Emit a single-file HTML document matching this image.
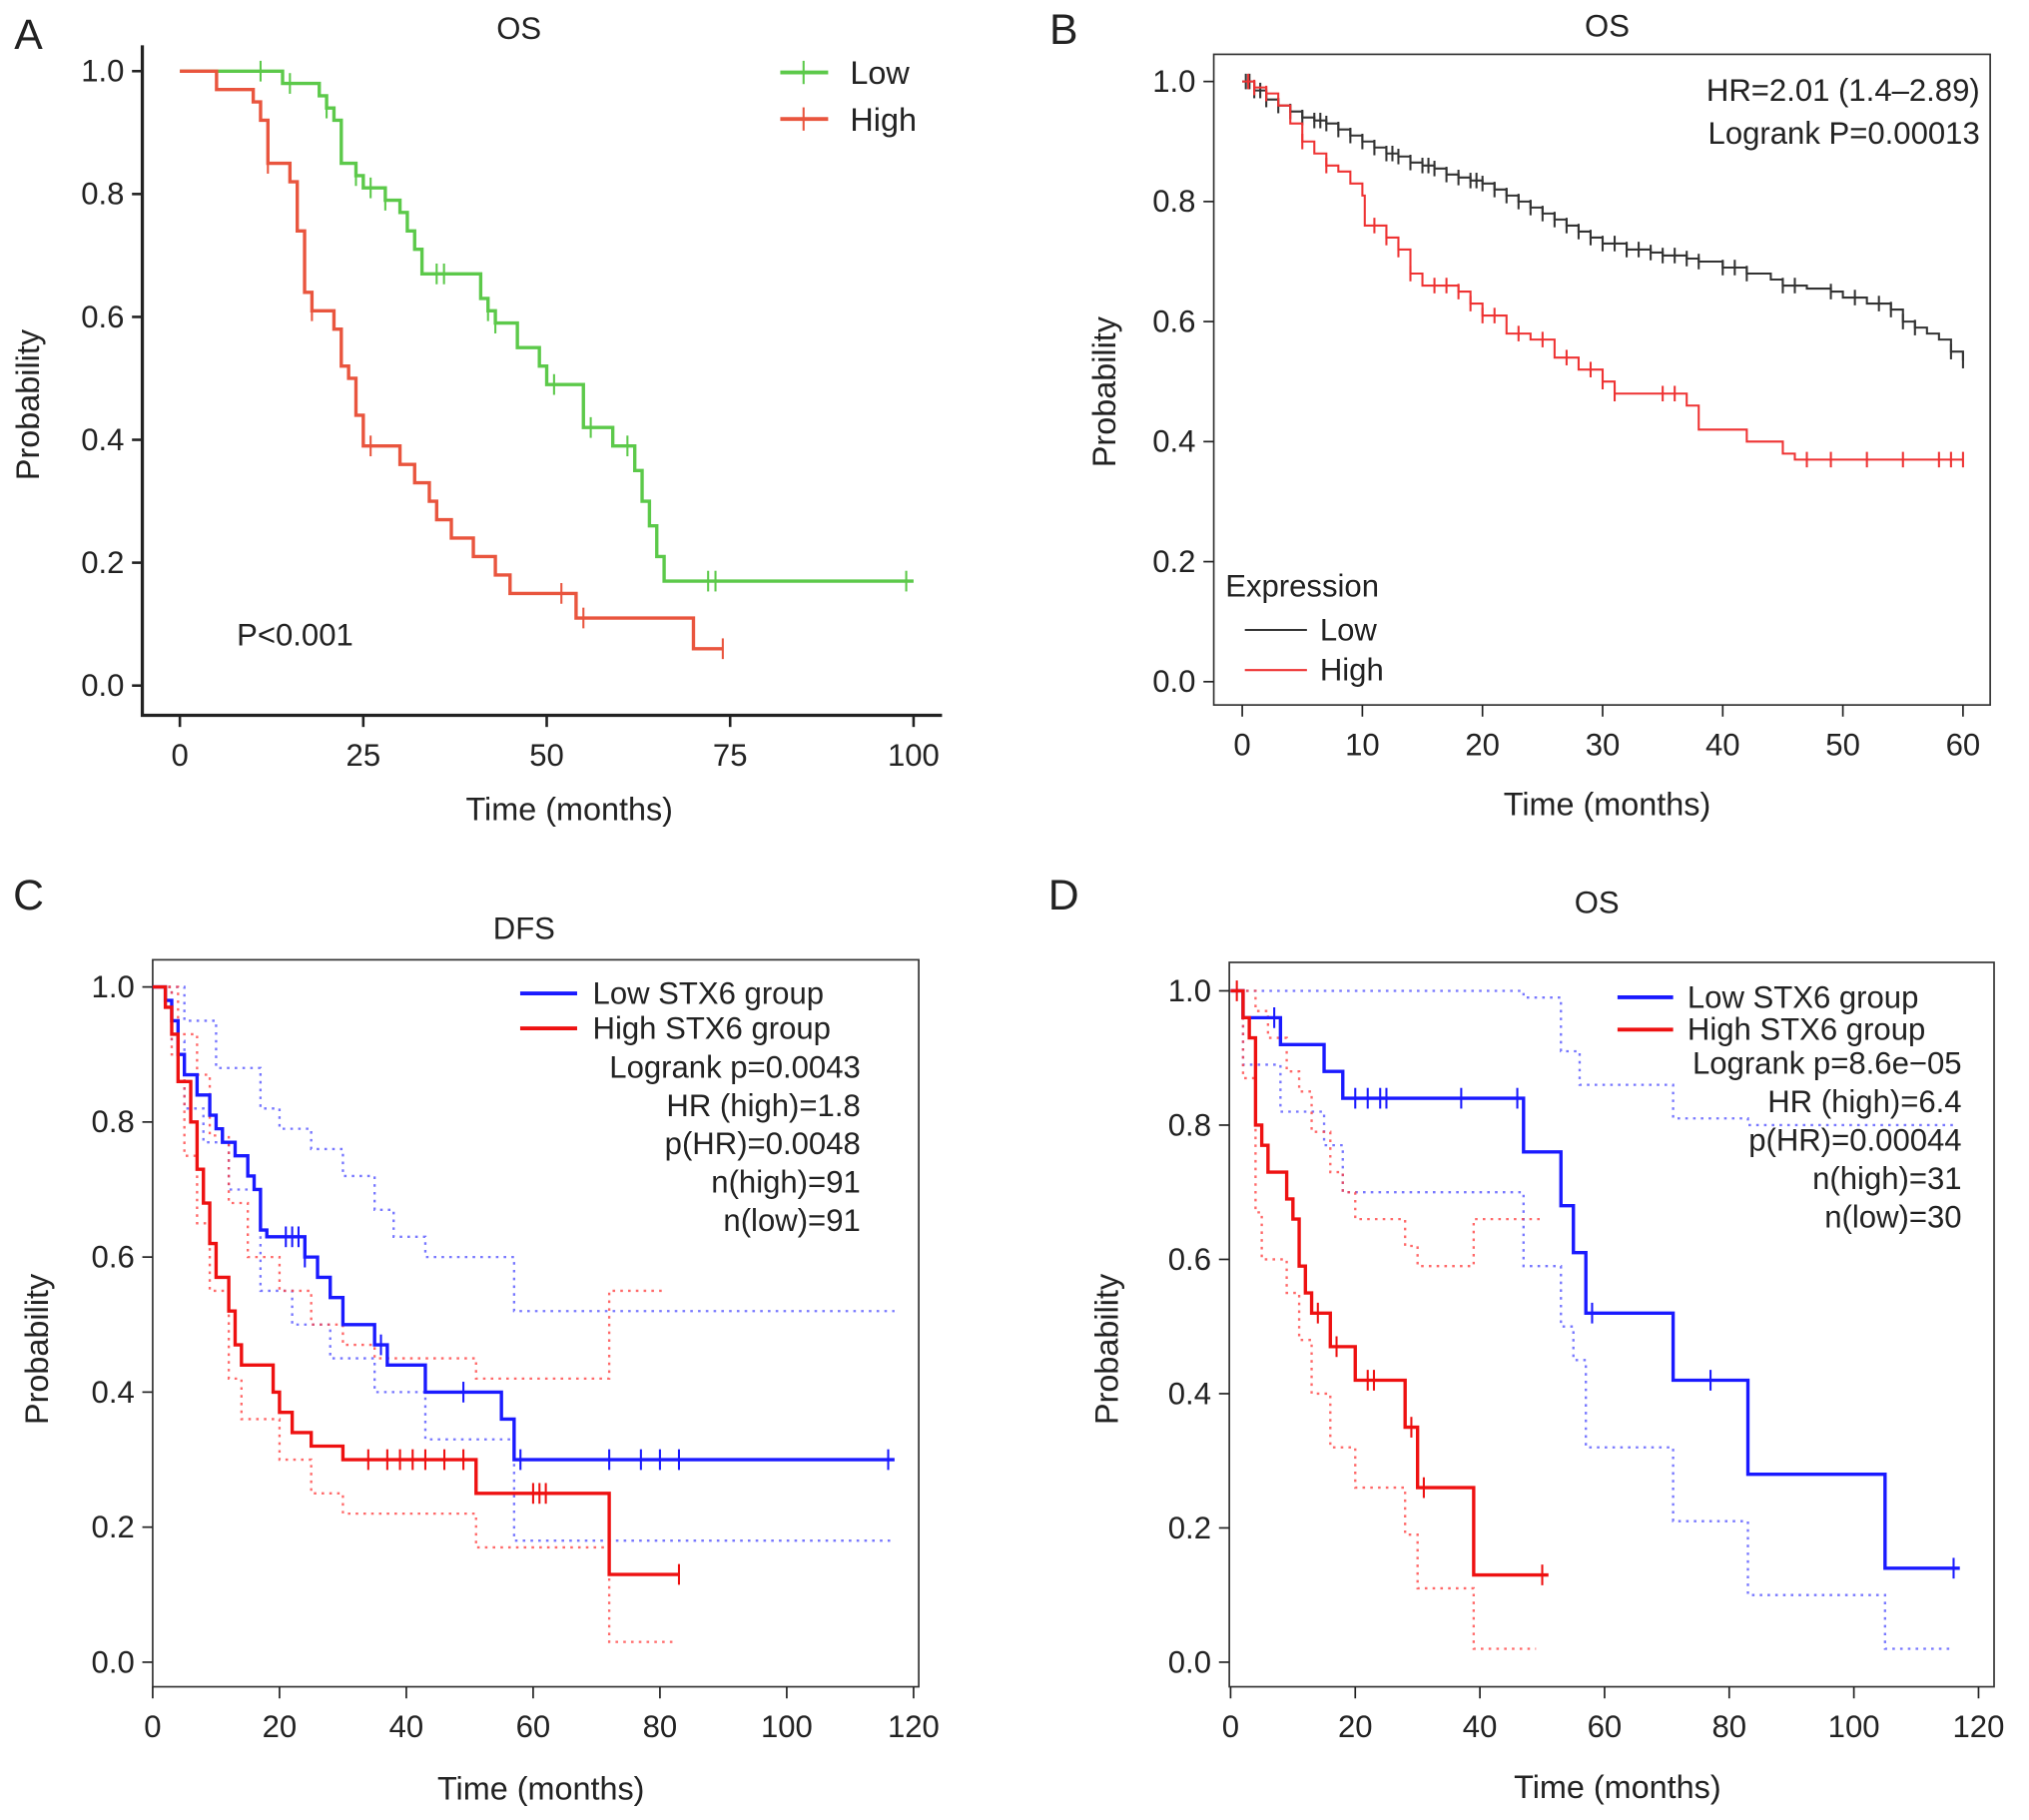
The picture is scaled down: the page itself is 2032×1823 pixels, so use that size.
<!DOCTYPE html>
<html><head><meta charset="utf-8"><style>
html,body{margin:0;padding:0;background:#fff}
svg{display:block}
text{font-family:"Liberation Sans",Arial,sans-serif;fill:#222}
</style></head><body>
<svg id="fig" width="2032" height="1823" viewBox="0 0 1568 1407" preserveAspectRatio="none" xmlns="http://www.w3.org/2000/svg"></svg>
<script>
// ---------- Panel A data ----------
const aLowT=[0,14,19,20,21,22,24,25,28,30,31,32,33,41,42,43,46,49,50,55,59,62,63,64,65,66];
const aLowS=[1,0.98,0.96,0.94,0.92,0.85,0.83,0.81,0.79,0.77,0.74,0.71,0.67,0.63,0.61,0.59,0.55,0.52,0.49,0.42,0.39,0.35,0.30,0.26,0.21,0.17];
const aLowEnd=100;
const aLowCens=[11,15,20,24,26,28,35,36,42,43,51,56,61,72,73,99];
const aHighT=[0,5,10,11,12,15,16,17,18,21,22,23,24,25,30,32,34,35,37,40,43,45,54,70];
const aHighS=[1,0.97,0.95,0.92,0.85,0.82,0.74,0.64,0.61,0.58,0.52,0.50,0.44,0.39,0.36,0.33,0.30,0.27,0.24,0.21,0.18,0.15,0.11,0.06];
const aHighEnd=74;
const aHighCens=[12,18,26,52,55,74];
const aXTicks=[0,25,50,75,100];
const yTicks=[0,0.2,0.4,0.6,0.8,1.0];
// ---------- Panel B data ----------
const bLowT=[0,1,2,3,4,5,6,7,8,9,10,11,12,13,14,15,16,17,18,19,20,21,22,23,24,25,26,27,28,29,30,32,34,35,37,38,40,42,44,45,47,49,50,52,54,55,56,57,58,59,60];
const bLowS=[1,0.985,0.97,0.96,0.95,0.94,0.935,0.93,0.92,0.91,0.9,0.89,0.88,0.875,0.865,0.86,0.855,0.845,0.84,0.835,0.83,0.82,0.81,0.8,0.79,0.78,0.77,0.76,0.75,0.74,0.73,0.72,0.715,0.71,0.705,0.70,0.69,0.68,0.67,0.66,0.655,0.65,0.64,0.63,0.62,0.60,0.59,0.58,0.57,0.55,0.535];
const bLowEnd=60;
const bLowCens=[0.3,0.6,1,1.5,2,3,4,5,6,6.5,7,8,9,10,11,12,12.5,13,14,15,15.5,16,17,18,19,19.5,20,21,22,23,24,25,26,27,28,29,30,31,32,33,34,35,36,37,38,40,41,42,45,46,49,51,53,54,55,56,59,60];
const bHighT=[0,1,2,3,4,5,6,7,8,9,10,10.2,12,13,14,15,18,19,20,22,24,26,28,30,31,37,38,42,45,46];
const bHighS=[1,0.99,0.98,0.96,0.93,0.9,0.88,0.86,0.85,0.83,0.81,0.76,0.74,0.72,0.68,0.66,0.65,0.63,0.61,0.58,0.57,0.54,0.52,0.50,0.48,0.46,0.42,0.40,0.38,0.37];
const bHighEnd=60;
const bHighCens=[0.5,1,2,5,7,11,12,13,14,16,17,18,19,20,21,23,25,27,29,30,31,35,36,47,49,52,55,58,59,60];
const bXTicks=[0,10,20,30,40,50,60];
// ---------- Panel C data ----------
const cLowT=[0,2,3,4,5,7,9,10,11,13,15,16,17,18,24,26,28,30,35,37,43,55,57];
const cLowS=[1,0.98,0.95,0.9,0.87,0.84,0.81,0.79,0.77,0.75,0.72,0.70,0.64,0.63,0.60,0.57,0.54,0.50,0.47,0.44,0.40,0.36,0.30];
const cLowEnd=117;
const cLowCens=[21,22,23,24,36,49,58,72,77,80,83,116];
const cHighT=[0,2,3,4,6,7,8,9,10,12,13,14,19,20,22,25,30,51,72];
const cHighS=[1,0.97,0.93,0.86,0.80,0.73,0.68,0.62,0.57,0.52,0.47,0.44,0.40,0.37,0.34,0.32,0.30,0.25,0.13];
const cHighEnd=83;
const cHighCens=[34,37,39,41,43,46,49,60,61,62,83];
const cLowUpT=[0,5,10,17,20,25,30,35,38,43,57];
const cLowUpS=[1,0.95,0.88,0.82,0.79,0.76,0.72,0.67,0.63,0.60,0.52];
const cLowLoT=[0,3,5,8,12,17,22,28,35,43,57];
const cLowLoS=[1,0.92,0.82,0.77,0.70,0.55,0.50,0.45,0.40,0.33,0.18];
const cHighUpT=[0,4,7,9,12,15,20,25,30,35,51,72];
const cHighUpS=[1,0.93,0.87,0.78,0.68,0.60,0.55,0.50,0.47,0.45,0.42,0.55];
const cHighLoT=[0,3,5,7,9,12,14,20,25,30,51,72];
const cHighLoS=[1,0.9,0.75,0.65,0.55,0.42,0.36,0.30,0.25,0.22,0.17,0.03];
const cdXTicks=[0,20,40,60,80,100,120];
// ---------- Panel D data ----------
const dLowT=[0,2,8,15,18,47,53,55,57,71,83,105];
const dLowS=[1,0.96,0.92,0.88,0.84,0.76,0.68,0.61,0.52,0.42,0.28,0.14];
const dLowEnd=117;
const dLowCens=[7,20,22,24,25,37,46,58,77,116];
const dHighT=[0,2,3,4,5,6,9,10,11,12,13,16,20,28,30,39];
const dHighS=[1,0.96,0.93,0.80,0.77,0.73,0.69,0.66,0.59,0.55,0.52,0.47,0.42,0.35,0.26,0.13];
const dHighEnd=51;
const dHighCens=[1,14,17,22,23,29,31,50];
const dLowUpT=[0,47,53,56,71,83];
const dLowUpS=[1,0.99,0.91,0.86,0.81,0.80];
const dLowLoT=[0,2,8,15,18,47,53,55,57,71,83,105];
const dLowLoS=[1,0.89,0.82,0.77,0.70,0.59,0.50,0.45,0.32,0.21,0.10,0.02];
const dHighUpT=[0,4,6,9,11,13,16,18,20,28,30,39];
const dHighUpS=[1,0.97,0.93,0.88,0.85,0.79,0.73,0.70,0.66,0.62,0.59,0.66];
const dHighLoT=[0,2,4,5,9,11,13,16,20,28,30,39];
const dHighLoS=[1,0.87,0.67,0.60,0.55,0.48,0.40,0.32,0.26,0.19,0.11,0.02];

const NS="http://www.w3.org/2000/svg";
const svg=document.getElementById('fig');
function mk(tag,attrs,parent){const e=document.createElementNS(NS,tag);for(const k in attrs)e.setAttribute(k,attrs[k]);(parent||svg).appendChild(e);return e;}
function txt(x,y,s,size,anchor,parent,rot){const t=mk('text',{x:x,y:y,'font-size':size,'text-anchor':anchor||'start'},parent);if(rot)t.setAttribute('transform','rotate(-90 '+x+' '+y+')');t.textContent=s;return t;}
function scale(d0,d1,r0,r1){return v=>r0+(v-d0)/(d1-d0)*(r1-r0);}
function stepPath(T,S,end,X,Y){let d='M'+X(T[0])+','+Y(S[0]);for(let i=1;i<T.length;i++){d+=' H'+X(T[i])+' V'+Y(S[i]);}d+=' H'+X(end);return d;}
function survAt(T,S,t){let s=S[0];for(let i=0;i<T.length;i++){if(T[i]<=t)s=S[i];}return s;}

function panel(P){
  const g=mk('g',{});
  
  
  const X=scale(P.xd[0],P.xd[1],P.xr[0],P.xr[1]);
  const Y=scale(0,1,P.y0,P.y1);
  if(P.box){const r=mk('rect',{x:P.box[0],y:P.box[1],width:P.box[2]-P.box[0],height:P.box[3]-P.box[1],fill:'none',stroke:'#333','stroke-width':1.3},g);
    }
  else{const a=mk('path',{d:'M'+P.ax[0]+','+P.ax[1]+' V'+P.ax[3]+' H'+P.ax[2],fill:'none',stroke:'#222','stroke-width':2.5},g);
    }
  const yg=mk('g',{},g);
  yTicks.forEach(v=>{mk('line',{x1:P.yTickX-8,x2:P.yTickX,y1:Y(v),y2:Y(v),stroke:'#222','stroke-width':P.box?1.3:2},yg);
    const t=txt(P.yTickX-14,Y(v)+8,v.toFixed(1),24,'end',yg);});
  const xg=mk('g',{},g);
  P.xticks.forEach(v=>{mk('line',{x1:X(v),x2:X(v),y1:P.xTickY,y2:P.xTickY+9,stroke:'#222','stroke-width':P.box?1.3:2},xg);
    const t=txt(X(v),P.xTickY+39,String(v),24,'middle',xg);});
  let t=txt(P.title[0],P.title[1],P.title[2],24,'middle',g);
  t=txt(P.letter[0],P.letter[1],P.letter[2],33,'middle',g);
  t=txt(P.ylab[0],P.ylab[1],'Probability',25,'middle',g,true);
  t=txt(P.xlab[0],P.xlab[1],'Time (months)',25,'middle',g);
  (P.ci||[]).forEach(c=>{const p=mk('path',{d:stepPath(c.T,c.S,c.T[c.T.length-1]+(c.ext||0),X,Y),fill:'none',stroke:c.color,'stroke-width':1.8,'stroke-dasharray':'2,4',opacity:0.8},g);
    });
  P.series.forEach(s=>{const sg=mk('g',{},g);
    mk('path',{d:stepPath(s.T,s.S,s.end,X,Y),fill:'none',stroke:s.color,'stroke-width':s.w||2.6},sg);
    s.cens.forEach(c=>{const cx=X(c),cy=Y(survAt(s.T,s.S,c));const h=s.ch||8;
      const m=mk('path',{d:'M'+cx+','+(cy-h)+' V'+(cy+h),stroke:s.color,'stroke-width':1.6},sg);
      });
  });
  return {g,X,Y};
}

const A=panel({name:'panel-a-os',xd:[0,100],xr:[139,706],y0:530,y1:55,ax:[110,35,728,553],yTickX:110,xTickY:553,xticks:aXTicks,
  title:[401,30,'OS'],letter:[22,38,'A'],ylab:[30,313],xlab:[440,634],
  series:[{name:'low-series',T:aLowT,S:aLowS,end:aLowEnd,cens:aLowCens,color:'#5cc94a'},
          {name:'high-series',T:aHighT,S:aHighS,end:aHighEnd,cens:aHighCens,color:'#e9553e'}]});
[['Low',56,'#5cc94a'],['High',92,'#e9553e']].forEach(l=>{const lg=mk('g',{},A.g);
  mk('line',{x1:603,x2:640,y1:l[1],y2:l[1],stroke:l[2],'stroke-width':3},lg);mk('line',{x1:621,x2:621,y1:l[1]-9,y2:l[1]+9,stroke:l[2],'stroke-width':1.6},lg);txt(657,l[1]+9,l[0],25,'start',lg);});
let tt=txt(228,499,'P<0.001',24,'middle',A.g);

const B=panel({name:'panel-b-os',xd:[0,60],xr:[960,1517],y0:527,y1:63,box:[938,42,1538,545],yTickX:938,xTickY:545,xticks:bXTicks,
  title:[1242,28,'OS'],letter:[822,34,'B'],ylab:[862,303],xlab:[1242,630],
  series:[{name:'low-series',T:bLowT,S:bLowS,end:bLowEnd,cens:bLowCens,color:'#333',w:1.6,ch:6},
          {name:'high-series',T:bHighT,S:bHighS,end:bHighEnd,cens:bHighCens,color:'#ee3333',w:1.6,ch:6}]});
tt=txt(1530,78,'HR=2.01 (1.4\u20132.89)',24,'end',B.g);
tt=txt(1530,111,'Logrank P=0.00013',24,'end',B.g);
tt=txt(947,461,'Expression',24,'start',B.g);
[['Low',487,'#333'],['High',518,'#ee3333']].forEach(l=>{const lg=mk('g',{},B.g);
  mk('line',{x1:962,x2:1010,y1:l[1],y2:l[1],stroke:l[2],'stroke-width':1.6},lg);txt(1020,l[1]+8,l[0],24,'start',lg);});

const C=panel({name:'panel-c-dfs',xd:[0,120],xr:[118,706],y0:1285,y1:763,box:[118,742,710,1304],yTickX:118,xTickY:1304,xticks:cdXTicks,
  title:[405,726,'DFS'],letter:[22,703,'C'],ylab:[37,1043],xlab:[418,1391],
  ci:[{name:'low-ci-upper',T:cLowUpT,S:cLowUpS,ext:60,color:'#5555ff'},{name:'low-ci-lower',T:cLowLoT,S:cLowLoS,ext:60,color:'#5555ff'},
      {name:'high-ci-upper',T:cHighUpT,S:cHighUpS,ext:9,color:'#ff4444'},{name:'high-ci-lower',T:cHighLoT,S:cHighLoS,ext:10,color:'#ff4444'}],
  series:[{name:'low-series',T:cLowT,S:cLowS,end:cLowEnd,cens:cLowCens,color:'#1a1aff',w:2.6},
          {name:'high-series',T:cHighT,S:cHighS,end:cHighEnd,cens:cHighCens,color:'#ee1111',w:2.6}]});
function stxLegend(G,x1,x2,xt,y1,y2,xr,ys,lines){
  [['Low STX6 group',y1,'#1a1aff'],['High STX6 group',y2,'#ee1111']].forEach(l=>{const lg=mk('g',{},G);
    mk('line',{x1:x1,x2:x2,y1:l[1],y2:l[1],stroke:l[2],'stroke-width':3},lg);txt(xt,l[1]+8,l[0],24,'start',lg);});
  lines.forEach((s,i)=>{const t=txt(xr,ys+i*29.7+8,s,24,'end',G);});
}
stxLegend(C.g,402,446,458,768,795,665,825,['Logrank p=0.0043','HR (high)=1.8','p(HR)=0.0048','n(high)=91','n(low)=91']);

const D=panel({name:'panel-d-os',xd:[0,120],xr:[951,1529],y0:1285,y1:766,box:[950,744,1541,1304],yTickX:950,xTickY:1304,xticks:cdXTicks,
  title:[1234,706,'OS'],letter:[822,703,'D'],ylab:[864,1043],xlab:[1250,1390],
  ci:[{name:'low-ci-upper',T:dLowUpT,S:dLowUpS,ext:33,color:'#5555ff'},{name:'low-ci-lower',T:dLowLoT,S:dLowLoS,ext:11,color:'#5555ff'},
      {name:'high-ci-upper',T:dHighUpT,S:dHighUpS,ext:11,color:'#ff4444'},{name:'high-ci-lower',T:dHighLoT,S:dHighLoS,ext:10,color:'#ff4444'}],
  series:[{name:'low-series',T:dLowT,S:dLowS,end:dLowEnd,cens:dLowCens,color:'#1a1aff',w:2.6},
          {name:'high-series',T:dHighT,S:dHighS,end:dHighEnd,cens:dHighCens,color:'#ee1111',w:2.6}]});
stxLegend(D.g,1250,1293,1304,771,796,1516,822,['Logrank p=8.6e\u221205','HR (high)=6.4','p(HR)=0.00044','n(high)=31','n(low)=30']);
</script>
</body></html>
